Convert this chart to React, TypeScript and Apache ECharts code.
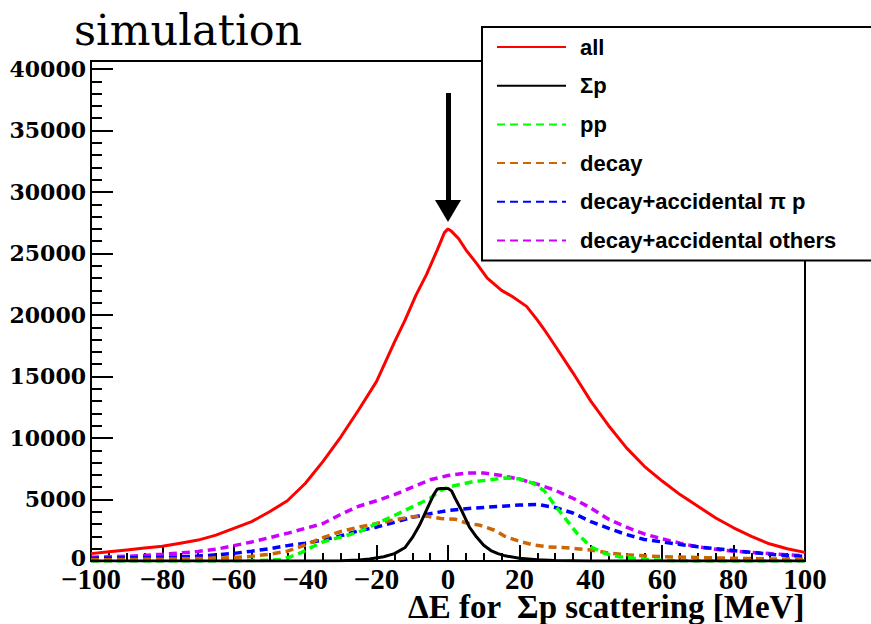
import React, { useEffect, useRef } from "react";
import * as echarts from "echarts";

// ---- axis ranges ----
const X_MIN = -100;
const X_MAX = 100;
const X_STEP = 20;
const Y_MIN = 0;
const Y_MAX = 40650;
const Y_STEP = 5000;
const X_TITLE = "ΔE for  Σp scattering [MeV]";

// ---- series values: [ΔE (MeV), counts] ----
const allData: [number, number][] = [
  [-100, 600], [-95, 750], [-90, 900], [-85, 1050], [-80, 1200], [-75, 1450],
  [-70, 1700], [-65, 2100], [-60, 2650], [-55, 3200], [-50, 4000], [-45, 4900],
  [-40, 6300], [-35, 8100], [-30, 10100], [-25, 12300], [-20, 14600], [-15, 17800],
  [-12, 19600], [-9, 21600], [-6, 23300], [-3, 25300], [-1, 26700], [0, 27000],
  [1, 26800], [3, 26200], [5, 25300], [8, 24200], [11, 23000], [15, 22000],
  [18, 21500], [22, 20700], [25, 19600], [27, 18800], [30, 17500], [35, 15300],
  [40, 13000], [45, 11000], [50, 9200], [55, 7700], [60, 6500], [65, 5400],
  [70, 4450], [75, 3500], [80, 2700], [85, 2000], [90, 1400], [95, 1000], [100, 700],
];

const sigmaPData: [number, number][] = [
  [-100, 0], [-40, 0], [-30, 30], [-25, 80], [-22, 160], [-18, 350], [-15, 600],
  [-12, 1100], [-10, 1900], [-8, 2900], [-6, 4150], [-4, 5400], [-3, 5850],
  [-2, 5900], [0, 5900], [1, 5700], [2, 5100], [4, 4000], [6, 2750], [8, 1950],
  [10, 1280], [12, 850], [14, 600], [16, 420], [20, 220], [25, 100], [30, 40],
  [40, 0], [100, 0],
];

const ppData: [number, number][] = [
  [-100, 0], [-70, 0], [-60, 20], [-55, 40], [-50, 60], [-47, 120], [-44, 350],
  [-41, 700], [-38, 1150], [-35, 1550], [-30, 1950], [-25, 2350], [-20, 3050],
  [-15, 3700], [-10, 4400], [-5, 5100], [-2, 5750], [0, 6000], [3, 6200],
  [7, 6450], [12, 6600], [16, 6750], [20, 6680], [24, 6300], [27, 5700],
  [30, 4500], [33, 3400], [36, 2300], [40, 1150], [44, 600], [48, 350],
  [52, 230], [56, 120], [60, 50], [65, 20], [70, 0], [100, 0],
];

const decayData: [number, number][] = [
  [-100, 100], [-90, 120], [-80, 150], [-70, 200], [-60, 280], [-55, 380],
  [-50, 550], [-45, 800], [-40, 1300], [-35, 1900], [-30, 2400], [-25, 2750],
  [-20, 3050], [-15, 3350], [-10, 3600], [-6, 3650], [-2, 3450], [2, 3400],
  [5, 3100], [9, 2900], [13, 2500], [16, 2000], [20, 1600], [24, 1300],
  [28, 1150], [32, 1100], [36, 1000], [40, 900], [45, 650], [50, 500],
  [55, 420], [60, 350], [65, 320], [70, 280], [75, 250], [80, 220],
  [85, 200], [90, 180], [95, 160], [100, 150],
];

const accPiPData: [number, number][] = [
  [-100, 230], [-90, 260], [-80, 300], [-75, 340], [-70, 400], [-65, 500],
  [-60, 620], [-55, 800], [-50, 1000], [-45, 1250], [-40, 1450], [-35, 1700],
  [-30, 2050], [-25, 2450], [-20, 2750], [-15, 3150], [-10, 3550], [-5, 3850],
  [0, 4100], [5, 4250], [10, 4350], [15, 4450], [20, 4550], [25, 4600],
  [30, 4350], [35, 3900], [40, 3200], [45, 2650], [50, 2150], [55, 1750],
  [60, 1550], [65, 1350], [70, 1150], [75, 1000], [80, 850], [85, 700],
  [90, 550], [95, 450], [100, 380],
];

const accOthersData: [number, number][] = [
  [-100, 300], [-90, 380], [-80, 550], [-75, 650], [-70, 780], [-65, 950],
  [-60, 1250], [-55, 1550], [-50, 1900], [-45, 2250], [-40, 2650], [-35, 3050],
  [-30, 3800], [-25, 4450], [-20, 4900], [-15, 5400], [-10, 6000], [-5, 6600],
  [0, 6950], [5, 7150], [10, 7150], [15, 6950], [20, 6650], [25, 6250],
  [30, 5750], [35, 5100], [40, 4300], [45, 3400], [50, 2750], [55, 2200],
  [60, 1800], [65, 1450], [70, 1150], [75, 950], [80, 800], [85, 700],
  [90, 600], [95, 500], [100, 420],
];

// arrow marking ΔE = 0 : [x, yStart, yEnd]
const arrowMark = { x: 0, from: 38050, to: 28450 };

const seriesNames = [
  "all",
  "Σp",
  "pp",
  "decay",
  "decay+accidental π p",
  "decay+accidental others",
];

export default function App() {
  const ref = useRef<HTMLDivElement>(null);

  useEffect(() => {
    if (!ref.current) return;
    const chart = echarts.init(ref.current, null, { renderer: "svg" });

    const dash = [8, 5];
    const mk = (name: string, data: [number, number][], color: string, dashed: boolean, z: number) => ({
      name,
      type: "line",
      data,
      symbol: "none",
      showSymbol: false,
      silent: true,
      z,
      lineStyle: { color, width: dashed ? 3.5 : 3, type: dashed ? dash : "solid" },
      itemStyle: { color },
    });

    const blackSeries: any = mk(seriesNames[1], sigmaPData, "#000000", false, 5);
    blackSeries.markLine = {
      silent: true,
      symbol: ["none", "triangle"],
      symbolSize: [26, 22],
      label: { show: false },
      lineStyle: { color: "#000000", width: 5, type: "solid" },
      data: [[{ coord: [arrowMark.x, arrowMark.from] }, { coord: [arrowMark.x, arrowMark.to] }]],
    };

    const labelFont = {
      fontFamily: "DejaVu Serif",
      fontWeight: "bold" as const,
      fontSize: 22,
      color: "#000000",
    };

    chart.setOption({
      animation: false,
      backgroundColor: "#ffffff",
      title: {
        text: "simulation",
        left: 74,
        top: 8,
        padding: 0,
        textStyle: {
          fontFamily: "DejaVu Serif",
          fontWeight: "normal",
          fontSize: 43,
          color: "#000000",
        },
      },
      graphic: [
        {
          type: "text",
          right: 66,
          top: 590,
          silent: true,
          style: {
            text: X_TITLE,
            fontFamily: "Liberation Serif",
            fontWeight: "bold",
            fontSize: 33,
            lineHeight: 24,
            fill: "#000000",
          },
        },
      ],
      legend: {
        data: seriesNames,
        orient: "vertical",
        left: 482,
        top: 27,
        padding: [9, 60, 9, 14],
        itemWidth: 69,
        itemHeight: 14,
        itemGap: 16.7,
        selectedMode: false,
        backgroundColor: "#ffffff",
        borderColor: "#000000",
        borderWidth: 2,
        borderRadius: 0,
        itemStyle: { opacity: 0 },
        textStyle: {
          fontFamily: "Liberation Sans",
          fontWeight: "bold",
          fontSize: 22,
          lineHeight: 22,
          color: "#000000",
          padding: [0, 0, 0, 9],
        },
      },
      grid: {
        left: 91,
        right: 66,
        top: 61,
        bottom: 63,
        show: true,
        containLabel: false,
        outerBoundsMode: "none",
        borderColor: "#000000",
        borderWidth: 2,
        backgroundColor: "transparent",
      },
      xAxis: {
        type: "value",
        min: X_MIN,
        max: X_MAX,
        interval: X_STEP,
        axisLine: { show: true, onZero: false, lineStyle: { color: "#000000", width: 2 } },
        axisTick: { show: true, inside: true, length: 16, lineStyle: { color: "#000000", width: 2 } },
        minorTick: { show: true, splitNumber: 4, length: 8, lineStyle: { color: "#000000", width: 2 } },
        splitLine: { show: false },
        minorSplitLine: { show: false },
        axisLabel: {
          margin: 10,
          hideOverlap: false,
          fontFamily: "Liberation Serif",
          fontWeight: "bold",
          fontSize: 29,
          lineHeight: 16,
          color: "#000000",
          formatter: (v: number) => String(v).replace("-", "\u2212"),
        },
      },
      yAxis: {
        type: "value",
        min: Y_MIN,
        max: Y_MAX,
        interval: Y_STEP,
        axisLine: { show: true, onZero: false, lineStyle: { color: "#000000", width: 2 } },
        axisTick: { show: true, inside: true, length: 22, lineStyle: { color: "#000000", width: 2 } },
        minorTick: { show: true, splitNumber: 5, length: 11, lineStyle: { color: "#000000", width: 2 } },
        splitLine: { show: false },
        minorSplitLine: { show: false },
        axisLabel: {
          margin: 5,
          showMaxLabel: false,
          ...labelFont,
          formatter: (v: number) => (v === 0 ? "{z|0}" : String(v)),
          rich: {
            z: { ...labelFont, lineHeight: 14, padding: [0, 0, 6, 0] },
          },
        },
      },
      series: [
        mk(seriesNames[5], accOthersData, "#cc00ff", true, 2),
        mk(seriesNames[4], accPiPData, "#0000ff", true, 2),
        mk(seriesNames[3], decayData, "#cc6600", true, 2),
        mk(seriesNames[2], ppData, "#00ff00", true, 3),
        blackSeries,
        mk(seriesNames[0], allData, "#ff0000", false, 6),
      ],
    });

    return () => chart.dispose();
  }, []);

  return (
    <div
      ref={ref}
      style={{ position: "fixed", left: 0, top: 0, width: 871, height: 624 }}
    />
  );
}
